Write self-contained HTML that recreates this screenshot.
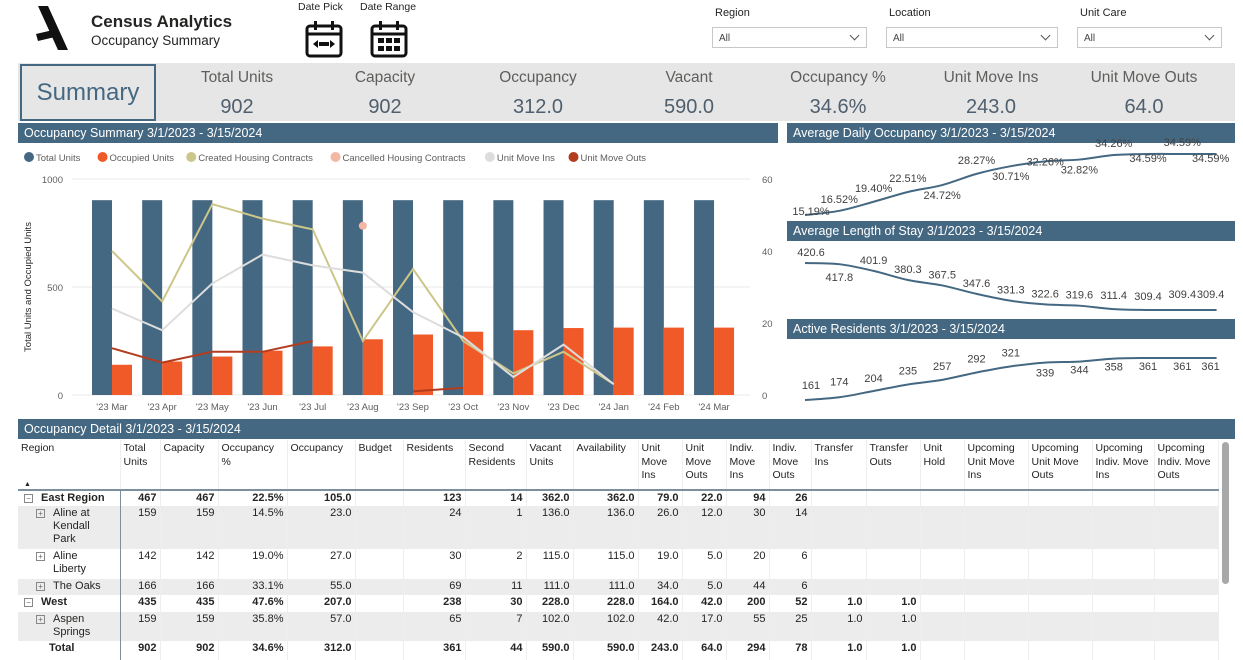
<!DOCTYPE html>
<html><head><meta charset="utf-8">
<style>
*{box-sizing:border-box;margin:0;padding:0}
body{width:1243px;height:660px;overflow:hidden;background:#fff;font-family:"Liberation Sans",sans-serif;position:relative;color:#252423}
.abs{position:absolute}
.ttl{position:absolute;background:#456882;color:#fff;font-size:12.5px;padding:3px 6px;height:20px;white-space:nowrap}
.flab{position:absolute;font-size:11px;color:#252423}
.dd{position:absolute;height:21px;border:1px solid #c8c8c8;font-size:10px;color:#444;padding:5px 6px}
.dd:after{content:"";position:absolute;right:8px;top:4px;width:6px;height:6px;border-right:1px solid #555;border-bottom:1px solid #555;transform:rotate(45deg)}
.kl{position:absolute;font-size:15.5px;color:#605e5c;transform:translateX(-50%);white-space:nowrap;top:69px}
.kv{position:absolute;font-size:20px;color:#4f5f6d;transform:translateX(-50%);top:96px}
table{position:absolute;left:18px;top:440px;border-collapse:collapse;table-layout:fixed;font-size:11px}
th{font-weight:normal;text-align:left;vertical-align:top;padding:2px 3px;color:#252423;font-size:10.5px;line-height:13.5px;border-right:1px solid #eee;border-bottom:2px solid #7d8f9c;height:50px}
td{text-align:right;vertical-align:top;padding:1px 3px;border-right:1px solid #eee;font-size:11px;line-height:13px;white-space:nowrap}
td.r{text-align:left;white-space:normal}
tr.b td{font-weight:bold}
tr.g td{background:#ececec}
td.first{border-right:1px solid #7d8f9c}
.pm{display:inline-block;width:9px;height:9px;border:1px solid #888;font-size:8px;line-height:7px;text-align:center;color:#666;margin-right:8px;vertical-align:0px;font-weight:normal}
</style></head><body>
<div class="abs" style="left:34px;top:6px;width:36px;height:44px">
<svg width="36" height="44"><path d="M4 0 L14 0 L34 44 L24 44 Z" fill="#111"/><path d="M2 28 L19 24 L21 31 L4 35 Z" fill="#111"/></svg></div>
<div class="abs" style="left:91px;top:12px;font-size:17px;font-weight:bold">Census Analytics</div>
<div class="abs" style="left:91px;top:33px;font-size:13.5px">Occupancy Summary</div>
<div class="abs" style="left:298px;top:1px;font-size:10.5px">Date Pick</div>
<div class="abs" style="left:360px;top:1px;font-size:10.5px">Date Range</div>
<div class="abs" style="left:305px;top:20px"><svg width="40" height="38"><rect x="2" y="6" width="34" height="30" rx="3" fill="none" stroke="#111" stroke-width="3"/><line x1="2" y1="14" x2="36" y2="14" stroke="#111" stroke-width="3"/><rect x="9" y="1" width="3" height="9" fill="#111"/><rect x="26" y="1" width="3" height="9" fill="#111"/><path d="M8 24 L13 20 L13 28 Z M30 24 L25 20 L25 28 Z" fill="#111"/><rect x="14" y="22" width="10" height="4" fill="#111"/></svg></div>
<div class="abs" style="left:370px;top:20px"><svg width="40" height="38"><rect x="2" y="6" width="34" height="30" rx="3" fill="none" stroke="#111" stroke-width="3"/><line x1="2" y1="14" x2="36" y2="14" stroke="#111" stroke-width="3"/><rect x="9" y="1" width="3" height="9" fill="#111"/><rect x="26" y="1" width="3" height="9" fill="#111"/><g fill="#111"><rect x="8" y="18" width="6" height="5"/><rect x="16" y="18" width="6" height="5"/><rect x="24" y="18" width="6" height="5"/><rect x="8" y="26" width="6" height="5"/><rect x="16" y="26" width="6" height="5"/><rect x="24" y="26" width="6" height="5"/></g></svg></div>

<div class="flab" style="left:715px;top:7px">Region</div>
<div class="dd" style="left:712px;top:27px;width:155px">All</div>
<div class="flab" style="left:889px;top:7px">Location</div>
<div class="dd" style="left:886px;top:27px;width:172px">All</div>
<div class="flab" style="left:1080px;top:7px">Unit Care</div>
<div class="dd" style="left:1077px;top:27px;width:145px">All</div>

<div class="abs" style="left:18px;top:63px;width:1217px;height:58px;background:#e6e6e6"></div>
<div class="abs" style="left:20px;top:64px;width:136px;height:57px;border:2px solid #456882;background:#e6e6e6;font-size:24px;color:#456882;text-align:center;line-height:54px">Summary</div>
<div id="kpis"></div>

<div class="ttl" style="left:18px;top:123px;width:760px">Occupancy Summary 3/1/2023 - 3/15/2024</div>
<svg id="main" class="abs" style="left:0;top:143px" width="785" height="275"></svg>

<div class="ttl" style="left:787px;top:123px;width:448px">Average Daily Occupancy 3/1/2023 - 3/15/2024</div>
<div class="ttl" style="left:787px;top:221px;width:448px">Average Length of Stay 3/1/2023 - 3/15/2024</div>
<div class="ttl" style="left:787px;top:319px;width:448px">Active Residents 3/1/2023 - 3/15/2024</div>
<svg id="mini" class="abs" style="left:780px;top:0" width="463" height="420"></svg>

<div class="ttl" style="left:18px;top:419px;width:1217px">Occupancy Detail 3/1/2023 - 3/15/2024</div>
<div id="tbl"></div>
<div class="abs" style="left:1222px;top:442px;width:7px;height:142px;background:#a8a8a8;border-radius:4px"></div>

<script>
// KPIs
const kpiLabels=["Total Units","Capacity","Occupancy","Vacant","Occupancy %","Unit Move Ins","Unit Move Outs"];
const kpiValues=["902","902","312.0","590.0","34.6%","243.0","64.0"];
const kpiX=[237,385,538,689,838,991,1144];
const kd=document.getElementById('kpis');
kpiLabels.forEach((l,i)=>{
 const a=document.createElement('div');a.className='kl';a.style.left=kpiX[i]+'px';a.textContent=l;
 
 
 const b=document.createElement('div');b.className='kv';b.style.left=kpiX[i]+'px';b.textContent=kpiValues[i];
 
 
 kd.appendChild(a);kd.appendChild(b);
});

// Main chart data
const months=["'23 Mar","'23 Apr","'23 May","'23 Jun","'23 Jul","'23 Aug","'23 Sep","'23 Oct","'23 Nov","'23 Dec","'24 Jan","'24 Feb","'24 Mar"];
const totalUnits=[902,902,902,902,902,902,902,902,902,902,902,902,902];
const occupiedUnits=[140,155,178,205,225,258,280,293,300,310,312,312,312];
const createdContracts=[40,26,53,49,46,15,35,15,6,12,3,null,null];
const cancelledContracts=[null,null,null,null,null,47,null,null,null,null,null,null,null];
const moveIns=[24,18,31,39,36,34,23,16,5,14,3,null,null];
const moveOuts=[13,9,12,12,15,null,1,2,null,null,null,null,null];
const leftTicks=[0,500,1000];
const rightTicks=[0,20,40,60];

const NS="http://www.w3.org/2000/svg";
function mk(parent,tag,attrs,name){const e=document.createElementNS(NS,tag);for(const k in attrs)e.setAttribute(k,attrs[k]);
 
 
 parent.appendChild(e);return e;}
const svg=document.getElementById('main');
const top0=36,bot0=252;
const yL=v=>bot0-(v/1000)*(bot0-top0);
const yR=v=>bot0-(v/60)*(bot0-top0);
const xC=i=>112+i*50.17;
const legItems=[["Total Units","#456882"],["Occupied Units","#f05a28"],["Created Housing Contracts","#cdc68b"],["Cancelled Housing Contracts","#f5b7a3"],["Unit Move Ins","#dddddd"],["Unit Move Outs","#b33c1f"]];
let lx=24;
legItems.forEach(([t,c])=>{
 mk(svg,'circle',{cx:lx+5,cy:14,r:5,fill:c},'legend-marker');
 const tx=mk(svg,'text',{x:lx+12,y:18,'font-size':9.5,fill:'#605e5c'},'legend-entry');tx.textContent=t;
 lx+=12+t.length*5.05+6;
});
leftTicks.forEach(v=>{
 mk(svg,'line',{x1:72,x2:750,y1:yL(v),y2:yL(v),stroke:'#e8e8e8'},'gridline');
 const t=mk(svg,'text',{x:63,y:yL(v)+4,'font-size':9.5,fill:'#605e5c','text-anchor':'end'},'left-tick-label');t.textContent=v;
});
rightTicks.forEach(v=>{
 const t=mk(svg,'text',{x:762,y:yR(v)+4,'font-size':9.5,fill:'#605e5c'},'right-tick-label');t.textContent=v;
});
const yt=mk(svg,'text',{x:0,y:0,'font-size':9.5,fill:'#252423','text-anchor':'middle',transform:'translate(31,'+((top0+bot0)/2)+') rotate(-90)'},'y-axis-title');yt.textContent="Total Units and Occupied Units";
months.forEach((m,i)=>{
 mk(svg,'rect',{x:xC(i)-20,y:yL(totalUnits[i]),width:20,height:bot0-yL(totalUnits[i]),fill:'#456882'},'bar-total-units');
 mk(svg,'rect',{x:xC(i),y:yL(occupiedUnits[i]),width:20,height:bot0-yL(occupiedUnits[i]),fill:'#f05a28'},'bar-occupied-units');
 const t=mk(svg,'text',{x:xC(i),y:bot0+15,'font-size':9.5,fill:'#605e5c','text-anchor':'middle'},'x-tick-label');t.textContent=m;
});
function drawLine(arr,color,name,w){
 let d='';arr.forEach((v,i)=>{if(v==null){d+=' ';return;}const prev=i>0&&arr[i-1]!=null;d+=(prev?'L':'M')+xC(i)+' '+yR(v);});
 mk(svg,'path',{d:d,fill:'none',stroke:color,'stroke-width':w},name);
}
drawLine(createdContracts,'#cdc68b','line-created-contracts',2);
drawLine(moveIns,'#dddddd','line-unit-move-ins',2);
drawLine(moveOuts,'#b33c1f','line-unit-move-outs',2);
cancelledContracts.forEach((v,i)=>{if(v!=null)mk(svg,'circle',{cx:xC(i),cy:yR(v),r:4,fill:'#f5b7a3'},'point-cancelled-contracts');});

// Mini charts
const occPct=[15.19,16.52,19.40,22.51,24.72,28.27,30.71,32.26,32.82,34.26,34.59,34.59,34.59];
const stay=[420.6,417.8,401.9,380.3,367.5,347.6,331.3,322.6,319.6,311.4,309.4,309.4,309.4];
const residents=[161,174,204,235,257,292,321,339,344,358,361,361,361];
const ms=document.getElementById('mini');
const mx=i=>25+i*34.3;
function smooth(pts){let d='M'+pts[0][0]+' '+pts[0][1];
 for(let i=0;i<pts.length-1;i++){const p0=pts[i-1]||pts[i],p1=pts[i],p2=pts[i+1],p3=pts[i+2]||p2;
 d+=' C'+(p1[0]+(p2[0]-p0[0])/6)+' '+(p1[1]+(p2[1]-p0[1])/6)+' '+(p2[0]-(p3[0]-p1[0])/6)+' '+(p2[1]-(p3[1]-p1[1])/6)+' '+p2[0]+' '+p2[1];}return d;}
function mini(arr,vmin,vmax,ytop,ybot,fmt,labelPos,name){
 const y=v=>ybot-(v-vmin)/(vmax-vmin)*(ybot-ytop);
 const pts=arr.map((v,i)=>[mx(i),y(v)]);
 mk(ms,'path',{d:smooth(pts),fill:'none',stroke:'#456882','stroke-width':2},name+'-line');
 arr.forEach((v,i)=>{const t=mk(ms,'text',{x:mx(i)+(i==0?6:i==12?-6:0),y:y(v)+labelPos[i],'font-size':11,fill:'#404040','text-anchor':'middle'},name+'-label');t.textContent=fmt(v);});
}
mini(occPct,15.19,34.59,154,215,v=>v.toFixed(2)+'%',[0,-8,-10,-10,14,-10,14,4,14,-8,8,-8,8],'avg-daily-occupancy');
mini(stay,309.4,420.6,263,310,v=>v.toFixed(1),[-7,17,-7,-7,-7,-7,-7,-7,-7,-10,-10,-12,-12],'avg-length-of-stay');
mini(residents,161,361,358,400,v=>String(v),[-11,-12,-9,-10,-10,-10,-10,14,12,12,12,12,12],'active-residents');

// Table
const heads=["Region","Total Units","Capacity","Occupancy %","Occupancy","Budget","Residents","Second Residents","Vacant Units","Availability","Unit Move Ins","Unit Move Outs","Indiv. Move Ins","Indiv. Move Outs","Transfer Ins","Transfer Outs","Unit Hold","Upcoming Unit Move Ins","Upcoming Unit Move Outs","Upcoming Indiv. Move Ins","Upcoming Indiv. Move Outs"];
const widths=[102,40,58,69,68,48,62,61,47,65,44,44,43,42,55,54,44,64,64,62,64];
const rows=[
 ["b","","⊟","East Region","467","467","22.5%","105.0","","123","14","362.0","362.0","79.0","22.0","94","26","","","",16],
 ["n","g","⊞","Aline at Kendall Park","159","159","14.5%","23.0","","24","1","136.0","136.0","26.0","12.0","30","14","","","",43],
 ["n","","⊞","Aline Liberty","142","142","19.0%","27.0","","30","2","115.0","115.0","19.0","5.0","20","6","","","",30],
 ["n","g","⊞","The Oaks","166","166","33.1%","55.0","","69","11","111.0","111.0","34.0","5.0","44","6","","","",16],
 ["b","","⊟","West","435","435","47.6%","207.0","","238","30","228.0","228.0","164.0","42.0","200","52","1.0","1.0","",17],
 ["n","g","⊞","Aspen Springs","159","159","35.8%","57.0","","65","7","102.0","102.0","42.0","17.0","55","25","1.0","1.0","",29],
 ["b","","","Total","902","902","34.6%","312.0","","361","44","590.0","590.0","243.0","64.0","294","78","1.0","1.0","",19]
];
let h='<table><colgroup>'+widths.map(w=>'<col style="width:'+w+'px">').join('')+'</colgroup><tr>';
heads.forEach((t,i)=>{h+='<th'+(i==0?' class="first" style="position:relative"':'')+'>'+t+(i==0?'<span style="position:absolute;left:6px;top:38px;font-size:7px">▲</span>':'')+'</th>';});
h+='</tr>';
rows.forEach(r=>{
 h+='<tr class="'+(r[0]=='b'?'b ':'')+r[1]+'" style="height:'+r[20]+'px">';
 const indent=r[0]=='b'?6:18;
 h+='<td class="r first" style="padding-left:'+indent+'px;padding-right:'+(r[0]=='b'?3:14)+'px"><div style="display:flex">'+(r[2]?'<span class="pm" style="margin-top:2px;flex:none">'+(r[2]=='⊟'?'−':'+')+'</span>':'<span style="width:25px;flex:none"></span>')+'<span>'+r[3]+'</span></div></td>';
 const vals=r.slice(4,19);
 for(let c=0;c<20;c++){h+='<td>'+(c<15?vals[c]:'')+'</td>';}
 h+='</tr>';
});
h+='</table>';
document.getElementById('tbl').innerHTML=h;
</script>
</body></html>
